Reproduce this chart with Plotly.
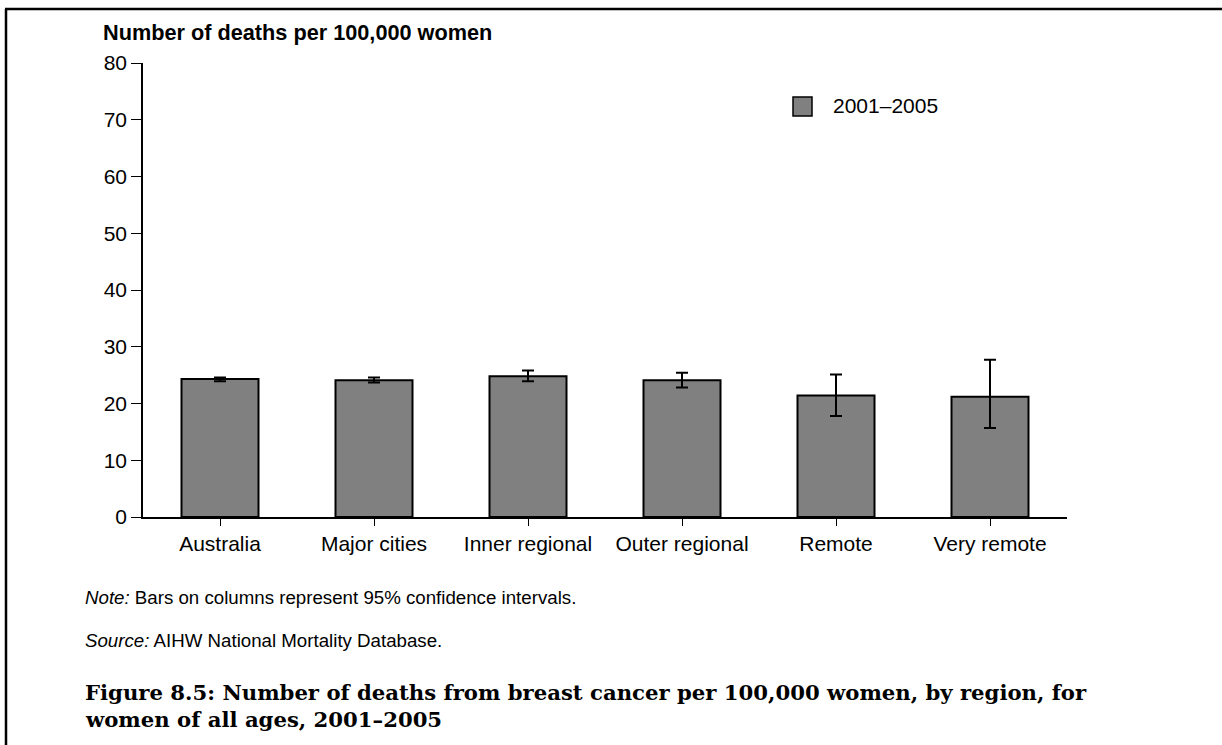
import plotly.graph_objects as go

regions = ["Australia", "Major cities", "Inner regional", "Outer regional", "Remote", "Very remote"]
rates = [24.3, 24.1, 24.8, 24.1, 21.4, 21.2]
ci_low = [23.9, 23.7, 23.9, 22.8, 17.8, 15.7]
ci_high = [24.6, 24.6, 25.8, 25.4, 25.1, 27.7]
series_name = "2001–2005"
y_ticks = [0, 10, 20, 30, 40, 50, 60, 70, 80]

err_plus = [h - v for h, v in zip(ci_high, rates)]
err_minus = [v - l for l, v in zip(ci_low, rates)]

W, H = 1222, 745
L, R, T, B = 143, 1067, 63, 517


def px(x):
    return (x - L) / (R - L)


def py(y):
    return (B - y) / (B - T)


SANS = "Liberation Sans, Arial, sans-serif"
SERIF = "DejaVu Serif, serif"

fig = go.Figure()
fig.add_trace(go.Bar(
    x=regions, y=rates, name=series_name,
    marker=dict(color="#808080", line=dict(color="#000000", width=2)),
    width=0.5,
    error_y=dict(type="data", symmetric=False, array=err_plus, arrayminus=err_minus,
                 color="#000000", thickness=2, width=6),
    showlegend=False,
))

fig.update_layout(
    width=W, height=H,
    margin=dict(l=L, r=W - R, t=T, b=H - B, autoexpand=False),
    paper_bgcolor="white", plot_bgcolor="white",
    font=dict(family=SANS, size=21, color="#000000"),
    xaxis=dict(showline=True, linecolor="#000000", linewidth=1.5,
               ticks="outside", ticklen=7, tickwidth=1.2, tickcolor="#000000",
               showgrid=False, zeroline=False, range=[-0.5, 5.5],
               tickfont=dict(size=21)),
    yaxis=dict(showline=True, linecolor="#000000", linewidth=1.5,
               ticks="outside", ticklen=10, tickwidth=1.2, tickcolor="#000000",
               showgrid=False, zeroline=False, range=[0, 80],
               tickvals=y_ticks, tickfont=dict(size=21)),
    shapes=[
        dict(type="line", xref="paper", yref="paper", x0=px(6), x1=px(6), y0=py(9), y1=py(H + 5),
             line=dict(color="#000000", width=2.5)),
        dict(type="line", xref="paper", yref="paper", x0=px(5), x1=px(W + 5), y0=py(9), y1=py(9),
             line=dict(color="#000000", width=2.5)),
        dict(type="rect", xref="paper", yref="paper", x0=px(793), x1=px(812), y0=py(116), y1=py(97),
             fillcolor="#808080", line=dict(color="#000000", width=1.5)),
    ],
    annotations=[
        dict(text="<b>Number of deaths per 100,000 women</b>", xref="paper", yref="paper",
             x=px(101), y=py(32), xanchor="left", yanchor="middle", showarrow=False,
             font=dict(size=21.7, family=SANS)),
        dict(text=series_name, xref="paper", yref="paper",
             x=px(831), y=py(106), xanchor="left", yanchor="middle", showarrow=False,
             font=dict(size=21, family=SANS)),
        dict(text="<i>Note:</i> Bars on columns represent 95% confidence intervals.", xref="paper", yref="paper",
             x=px(83), y=py(597), xanchor="left", yanchor="middle", showarrow=False,
             font=dict(size=18.7, family=SANS)),
        dict(text="<i>Source:</i> AIHW National Mortality Database.", xref="paper", yref="paper",
             x=px(83), y=py(640), xanchor="left", yanchor="middle", showarrow=False,
             font=dict(size=18.7, family=SANS)),
        dict(text="<b>Figure 8.5: Number of deaths from breast cancer per 100,000 women, by region, for</b>",
             xref="paper", yref="paper",
             x=px(83), y=py(692), xanchor="left", yanchor="middle", showarrow=False,
             font=dict(size=21.2, family=SERIF)),
        dict(text="<b>women of all ages, 2001–2005</b>",
             xref="paper", yref="paper",
             x=px(83), y=py(719), xanchor="left", yanchor="middle", showarrow=False,
             font=dict(size=21.2, family=SERIF)),
    ],
)

fig.write_html("out.html", config={"displayModeBar": False},
               post_script="document.body.style.margin='0px';")
